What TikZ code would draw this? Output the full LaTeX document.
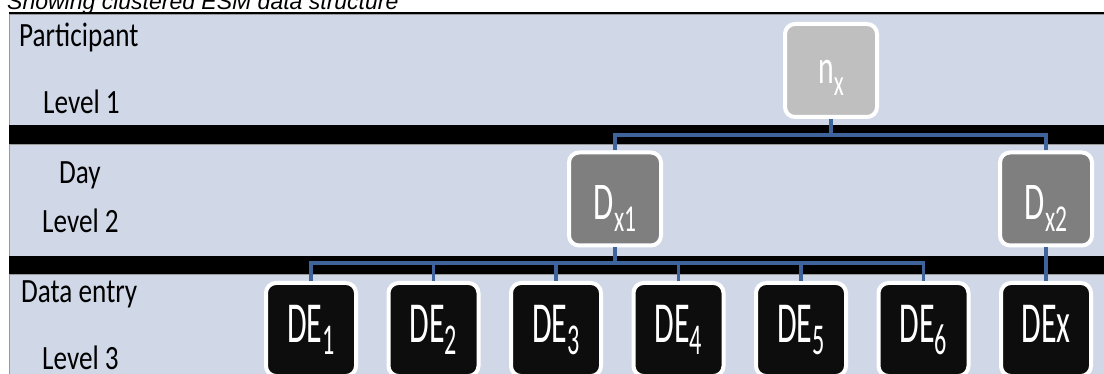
\documentclass[tikz,border=0pt]{standalone}
\usepackage{fontspec}
\setmainfont{Carlito}[FakeStretch=0.8]
\newfontfamily\boxfont{Carlito}[FakeStretch=0.55]
\newfontfamily\dayfont{Carlito}[FakeStretch=0.62]
\newfontfamily\titlefont{Liberation Sans}
\usetikzlibrary{positioning}
\definecolor{bandblue}{RGB}{208,216,232}
\definecolor{linkblue}{RGB}{62,100,155}
\definecolor{partgray}{RGB}{191,191,191}
\definecolor{daygray}{RGB}{127,127,127}
\definecolor{entryblack}{RGB}{13,13,13}
\newcommand{\lowtext}[3]{\raisebox{-#2}{\fontsize{#1}{#1}\selectfont #3}}

\begin{document}
\begin{tikzpicture}[x=1pt, y=-1pt,
    band/.style={draw=black!40, line width=0.6pt, fill=bandblue},
    lvltext/.style={anchor=base west, inner sep=0pt, font=\fontsize{34}{34}\selectfont},
    unit/.style={rectangle, rounded corners=10pt, draw=white, line width=4pt, text=white, inner sep=0pt, minimum width=90pt, minimum height=93pt, text depth=0pt, text height=25pt},
    link/.style={draw=linkblue, line width=3.5pt}]
    \useasboundingbox (0,0) rectangle (1104,374);
    \clip (0,0) rectangle (1104,374);

    % title and the three level bands
    \node [anchor=base west, inner sep=0pt, font=\titlefont\itshape\fontsize{23}{23}\selectfont] (title) at (7,9.5) {Showing clustered ESM data structure};
    \draw [line width=1.5pt] (9,13) -- (1104,13);
    \path [band] (9,14) rectangle (1110,125);
    \fill [black] (9,125) rectangle (1110,144);
    \path [band] (9,144) rectangle (1110,256);
    \fill [black] (9,256) rectangle (1110,274);
    \path [band] (9,274) rectangle (1110,380);

    \node [lvltext] (partlbl) at (19,47) {Participant};
    \node [lvltext] (lvlone) at (43,114) {Level 1};
    \node [lvltext] (daylbl) at (59,184) {Day};
    \node [lvltext] (lvltwo) at (42,233) {Level 2};
    \node [lvltext] (entrylbl) at (21,303) {Data entry};
    \node [lvltext] (lvlthree) at (42,370) {Level 3};

    % boxes
    \node [unit, fill=partgray, minimum width=92pt, text height=27pt, font=\dayfont\fontsize{48}{48}\selectfont] (nx) at (831,70.5) {n\lowtext{37pt}{12pt}{x}};
    \node [unit, fill=daygray, minimum width=92pt, text height=42pt, font=\dayfont\fontsize{53}{53}\selectfont] (dx1) at (615,199) {D\lowtext{38pt}{12pt}{x1}};
    \node [unit, fill=entryblack, font=\boxfont\fontsize{58}{58}\selectfont] (de1) at (311,329.5) {DE\lowtext{44pt}{13pt}{1}};
    \node [unit, fill=entryblack, font=\boxfont\fontsize{58}{58}\selectfont, right of = de1, node distance = 122.5pt] (de2) {DE\lowtext{44pt}{13pt}{2}};
    \node [unit, fill=entryblack, font=\boxfont\fontsize{58}{58}\selectfont, right of = de2, node distance = 122.5pt] (de3) {DE\lowtext{44pt}{13pt}{3}};
    \node [unit, fill=entryblack, font=\boxfont\fontsize{58}{58}\selectfont, right of = de3, node distance = 122.5pt] (de4) {DE\lowtext{44pt}{13pt}{4}};
    \node [unit, fill=entryblack, font=\boxfont\fontsize{58}{58}\selectfont, right of = de4, node distance = 122.5pt] (de5) {DE\lowtext{44pt}{13pt}{5}};
    \node [unit, fill=entryblack, font=\boxfont\fontsize{58}{58}\selectfont, right of = de5, node distance = 122.5pt] (de6) {DE\lowtext{44pt}{13pt}{6}};
    \node [unit, fill=entryblack, font=\boxfont\fontsize{58}{58}\selectfont, right of = de6, node distance = 122.5pt] (dex) {DEx};
    \node [unit, fill=daygray, minimum width=92pt, text height=42pt, font=\dayfont\fontsize{53}{53}\selectfont, above of = dex, node distance = 130.5pt] (dx2) {D\lowtext{38pt}{12pt}{x2}};

    % tree links
    \draw [link] (nx.south) -- ++(0,16) -| (dx1.north);
    \draw [link] (nx.south) -- ++(0,16) -| (dx2.north);
    \foreach \k in {1,...,6}
        \draw [link] (dx1.south) -- ++(0,15.5) -| (de\k.north);
    \draw [link] (dx2.south) -- (dex.north);
\end{tikzpicture}
\end{document}
